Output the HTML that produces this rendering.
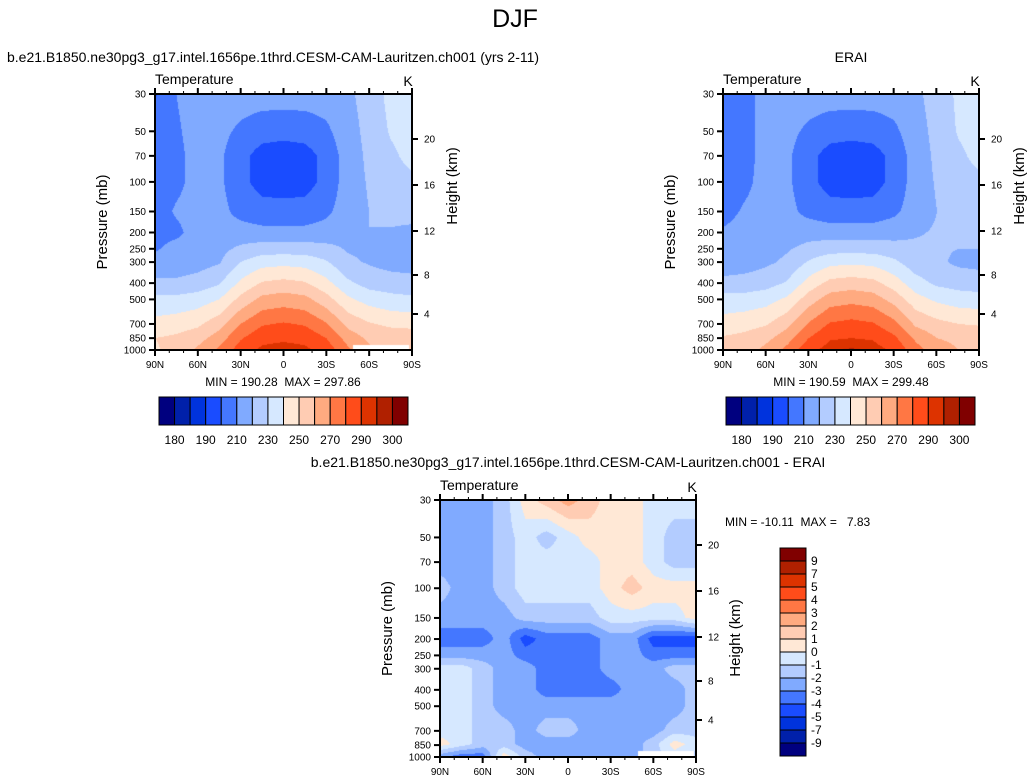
<!DOCTYPE html>
<html><head><meta charset="utf-8">
<style>
html,body{margin:0;padding:0;background:#fff;}
#root{position:relative;width:1030px;height:783px;overflow:hidden;font-family:"Liberation Sans",sans-serif;}
canvas{position:absolute;}
svg{position:absolute;left:0;top:0;}
text{white-space:pre;}
</style></head>
<body>
<div id="root">
<canvas id="c1" width="257" height="256" style="left:155px;top:94px"></canvas>
<canvas id="c2" width="257" height="256" style="left:723px;top:94px"></canvas>
<canvas id="c3" width="256" height="256" style="left:440px;top:500px"></canvas>
<svg id="ov" width="1030" height="783"></svg>
</div>
<script>
const lats=[90,75,60,45,30,15,0,-15,-30,-45,-60,-75,-90];
const levels=[30,50,70,100,150,200,250,300,400,500,700,850,1000];
const modelT=[
[199,210,214,215,215,215,215,215,215,218,224,233,235],
[205,209,213,213,208,204,203,204,208,216,223,231,234],
[206,208,213,212,203,196,195,196,203,215,222,228,233],
[206,208,213,212,203,196,195,196,203,215,221,226,228],
[206,211,213,213,207,204,204,204,208,215,220,223,223],
[207,208,214,214,214,213,213,213,214,217,220,219,218],
[209,213,215,217,222,225,225,225,223,219,218,217,217],
[213,214,216,219,230,236,237,236,231,222,219,216,215],
[222,222,224,229,242,251,253,251,243,232,226,225,224],
[233,233,235,240,253,263,265,263,254,242,236,233,232],
[243,245,248,256,270,279,281,279,271,257,251,248,247],
[250,252,256,265,279,287,288,287,280,266,258,256,256],
[249,253,262,272,285,292,294,292,286,272,262,258,256]];
const eraiT=[
[204,207,213,215,215,215,215,215,215,218,224,232,235],
[205,207,213,213,208,204,203,204,208,216,223,231,234],
[205,207,213,212,203,196,195,196,203,215,222,228,233],
[205,208,213,212,203,196,195,196,203,215,221,226,228],
[207,211,213,213,207,204,204,204,208,215,220,223,223],
[211,213,214,215,216,215,215,215,216,219,221,222,222],
[212,214,216,219,223,226,226,226,224,222,221,220,220],
[214,215,218,222,231,237,238,237,232,224,222,218,217],
[223,224,226,231,244,253,255,253,245,234,228,226,225],
[234,234,236,242,255,265,267,265,256,244,238,235,234],
[244,246,249,257,271,281,283,281,273,258,253,250,249],
[251,253,257,266,280,289,290,289,282,268,260,258,257],
[250,254,263,273,287,294,296,294,288,274,264,260,258]];
const diffT=[
[-2.5,-2.5,-2.5,-1.5,0.5,1.5,2.5,1.5,0.5,0.5,-0.5,-0.5,-0.5],
[-2.5,-2.5,-2.5,-1.5,-0.5,-1.5,-0.5,0.5,0.5,0.5,-0.5,-1.5,-1.5],
[-2.5,-2.5,-2.5,-1.5,-0.5,-0.5,-0.5,-0.5,0.5,0.5,-0.5,-1.5,-1.5],
[-1.5,-2.5,-2.5,-1.5,-0.5,-0.5,-0.5,-0.5,0.5,1.5,0.5,0.5,0.5],
[-2.5,-2.5,-2.5,-2.5,-1.5,-1.5,-1.5,-1.5,-0.5,-0.5,-0.5,-0.5,0.5],
[-3.5,-3.5,-3.5,-2.5,-4.5,-3.5,-3.5,-3.5,-2.5,-2.5,-4.5,-4.5,-4.5],
[-2.5,-2.5,-2.5,-2.5,-3.5,-3.5,-3.5,-3.5,-2.5,-2.5,-3.5,-3.5,-3.5],
[-0.5,-0.5,-1.5,-2.5,-2.5,-3.5,-3.5,-3.5,-2.5,-2.5,-2.5,-1.5,-1.5],
[-0.5,-0.5,-1.5,-2.5,-2.5,-3.5,-3.5,-3.5,-3.5,-2.5,-2.5,-2.5,-1.5],
[-0.5,-0.5,-1.5,-2.5,-2.5,-2.5,-2.5,-2.5,-2.5,-2.5,-2.5,-2.5,-1.5],
[-0.5,-0.5,-1.5,-1.5,-2.5,-1.5,-1.5,-2.5,-2.5,-2.5,-2.5,-1.5,-1.5],
[0.5,-0.5,-1.5,-1.5,-2.5,-2.5,-2.5,-2.5,-2.5,-2.5,-1.5,0.5,-0.5],
[-2.5,-3.5,-3.5,0.5,-1.5,-2.5,-2.5,-2.5,-2.5,-2.5,-1.5,-0.5,-1.5]];
const absLevels=[180,185,190,200,210,220,230,240,250,260,270,280,290,295,300];
const absLabels=["180","190","210","230","250","270","290","300"];
const diffLevels=[-9,-7,-5,-4,-3,-2,-1,0,1,2,3,4,5,7,9];
const palette=["#00007f","#0020aa","#0033dd","#1a4cff","#4477ff","#80aaff","#b3ccff","#d6e8ff","#ffe8d6","#ffccb3","#ffaa80","#ff7744","#ff4c1a","#dd3300","#b02000","#800000"];
const presTicks=[30,50,70,100,150,200,250,300,400,500,700,850,1000];
const latTickLabels=["90N","60N","30N","0","30S","60S","90S"];
const heightLabels=["20","16","12","8","4"];
const heightOffsets=[45,91,137,181,220];

const NS="http://www.w3.org/2000/svg";
const ov=document.getElementById('ov');
function el(tag,attrs,parent){const e=document.createElementNS(NS,tag);for(const k in attrs)e.setAttribute(k,attrs[k]);(parent||ov).appendChild(e);return e;}
function txt(s,x,y,size,anchor,parent,extra){const t=el('text',Object.assign({x:x,y:y,'font-size':size,'text-anchor':anchor||'start',fill:'#000','font-family':'Liberation Sans, sans-serif'},extra||{}),parent);t.textContent=s;return t;}
function colorIdx(v,lv){let i=0;while(i<lv.length&&v>=lv[i])i++;return i;}
const lp0=Math.log(30),lp1=Math.log(1000);
function yOf(p,top,h){return top+h*(Math.log(p)-lp0)/(lp1-lp0);}
function sample(data,lat,p){
 let fi=(90-lat)/15; if(fi<0)fi=0; if(fi>12)fi=12;
 let i0=Math.min(11,Math.floor(fi)); let tx=fi-i0;
 const lpv=Math.log(p); let j0=0;
 for(let j=0;j<levels.length-1;j++){if(lpv>=Math.log(levels[j]))j0=j;}
 let ty=(lpv-Math.log(levels[j0]))/(Math.log(levels[j0+1])-Math.log(levels[j0])); ty=Math.max(0,Math.min(1,ty));
 const a=data[j0][i0],b=data[j0][i0+1],c=data[j0+1][i0],d=data[j0+1][i0+1];
 return (a*(1-tx)+b*tx)*(1-ty)+(c*(1-tx)+d*tx)*ty;
}
function drawField(id,data,lv){
 const cv=document.getElementById(id),ctx=cv.getContext('2d');const W=cv.width,H=cv.height;
 for(let y=0;y<H;y++){
  const p=Math.exp(lp0+(y+0.5)/H*(lp1-lp0));
  for(let x=0;x<W;x++){
   const lat=90-180*(x+0.5)/W;
   ctx.fillStyle=palette[colorIdx(sample(data,lat,p),lv)];
   ctx.fillRect(x,y,1,1);
  }
 }
}
drawField('c1',modelT,absLevels);
drawField('c2',eraiT,absLevels);
drawField('c3',diffT,diffLevels);
(function(){const c=document.getElementById('c1').getContext('2d');c.fillStyle='#fff';c.fillRect(198,251,56,5);
const c3=document.getElementById('c3').getContext('2d');c3.fillStyle='#fff';c3.fillRect(198,251,56,5);})();

function axes(name,L,T,W,H,showHeightTitle){
 const g=el('g',{});
 
 
 el('rect',{x:L,y:T,width:W,height:H,fill:'none',stroke:'#000','stroke-width':2},g);
 for(let lat=90;lat>=-90;lat-=10){
  const x=L+W*(90-lat)/180;const major=lat%30===0;const len=major?6:3;
  el('line',{x1:x,y1:T,x2:x,y2:T-len,stroke:'#000','stroke-width':major?2:1},g);
  el('line',{x1:x,y1:T+H,x2:x,y2:T+H+len,stroke:'#000','stroke-width':major?2:1},g);
 }
 latTickLabels.forEach((s,i)=>{const t=txt(s,L+W*i/6,T+H+18,10,'middle',g);});
 presTicks.forEach(p=>{const y=yOf(p,T,H);el('line',{x1:L,y1:y,x2:L-6,y2:y,stroke:'#000','stroke-width':2},g);
  const t=txt(String(p),L-9,y+3.5,10,'end',g);});
 heightLabels.forEach((s,i)=>{const y=T+heightOffsets[i];el('line',{x1:L+W,y1:y,x2:L+W+6,y2:y,stroke:'#000','stroke-width':2},g);
  const t=txt(s,L+W+12,y+3.5,10,'start',g);});
 const t1=txt('Temperature',L,T-10,14,'start',g);
 const t2=txt('K',L+W-4,T-8,14,'middle',g);
 const yt=txt('Pressure (mb)',0,0,15,'middle',g,{transform:`translate(${L-48},${T+H/2}) rotate(-90)`});
 if(showHeightTitle){const ht=txt('Height (km)',0,0,15,'middle',g,{transform:`translate(${L+W+45},${T+92}) rotate(-90)`});}
}
axes('model',155,94,257,256,true);
axes('erai',723,94,256,256,true);
axes('diff',440,500,256,257,false);
{const ht=txt('Height (km)',0,0,15,'middle',ov,{transform:`translate(740,638) rotate(-90)`});}

function hbar(name,L,T){
 const g=el('g',{});
 const bw=249/16;
 palette.forEach((c,i)=>{const r=el('rect',{x:L+i*bw,y:T,width:bw,height:28,fill:c,stroke:'#000','stroke-width':1},g);});
 absLabels.forEach((s,i)=>{const b=[1,3,5,7,9,11,13,15][i];const t=txt(s,L+b*bw,T+47,12,'middle',g);});
}
hbar('model-colorbar',159,397);
hbar('erai-colorbar',726,397);
(function(){
 const g=el('g',{});
 const L=780,T=548,bh=13;
 for(let i=0;i<16;i++){const r=el('rect',{x:L,y:T+i*bh,width:26,height:bh,fill:palette[15-i],stroke:'#000','stroke-width':1},g);}
 for(let i=0;i<15;i++){const t=txt(String(diffLevels[14-i]),L+31,T+(i+1)*bh+4,12,'start',g);}
})();
let t;
t=txt('DJF',515,27,25,'middle');
t=txt('b.e21.B1850.ne30pg3_g17.intel.1656pe.1thrd.CESM-CAM-Lauritzen.ch001 (yrs 2-11)',7,62,14,'start');
t=txt('ERAI',851,62,14,'middle');
t=txt('MIN = 190.28  MAX = 297.86',283,386,12,'middle');
t=txt('MIN = 190.59  MAX = 299.48',851,386,12,'middle');
t=txt('b.e21.B1850.ne30pg3_g17.intel.1656pe.1thrd.CESM-CAM-Lauritzen.ch001 - ERAI',568,467,14,'middle');
t=txt('MIN = -10.11  MAX =   7.83',725,526,12,'start');
</script>
</body></html>
